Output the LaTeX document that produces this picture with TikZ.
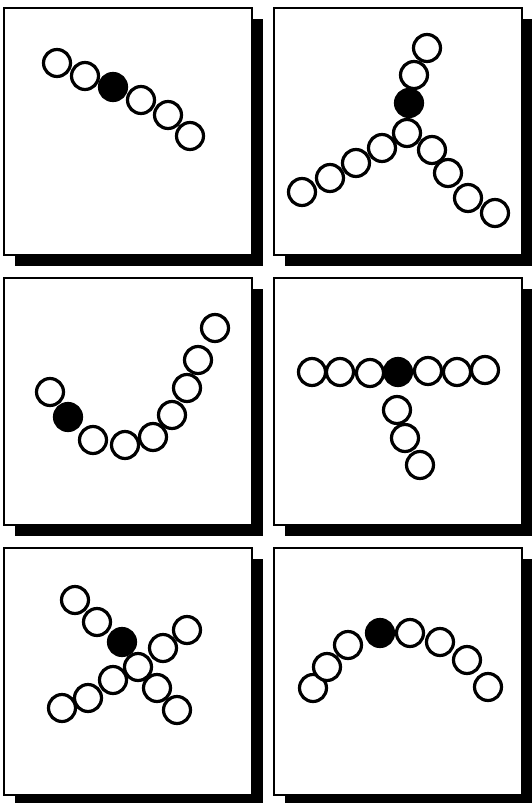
\documentclass[tikz,border=0pt]{standalone}
\begin{document}
\begin{tikzpicture}[
    x=1pt,y=-1pt,
    panel/.style={draw=black,fill=white,line width=1.6pt},
    shade/.style={fill=black},
    bead/.style={circle,draw=black,fill=white,line width=3.2pt,inner sep=0pt,minimum size=27pt},
    core/.style={bead,fill=black}
  ]
    \path[use as bounding box] (0,0) rectangle (532,803);
    % frames with drop shadow
    \foreach \c in {0,1}
      \foreach \r in {0,1,2} {
        \fill[shade] (15+270*\c,19+270*\r) rectangle ++(248,247);
        \draw[panel] (4+270*\c,8+270*\r) rectangle ++(248,247);
      }
    % straight chain
    \foreach \x/\y [count=\i] in {57/63,85/76,141/100,168/115,190/136}
      \node[bead] (a\i) at (\x,\y) {};
    \node[core] (acore) at (113,87) {};
    % three arms
    \foreach \x/\y [count=\i] in {427/48,414/75,302/192,330/178,356/163,382/148,
        495/213,468/198,448/173,432/150,407/133}
      \node[bead] (b\i) at (\x,\y) {};
    \node[core] (bcore) at (409,103) {};
    % bent chain
    \foreach \x/\y [count=\i] in {50/392,93/440,125/445,153/437,172/415,187/388,198/360,215/328}
      \node[bead] (c\i) at (\x,\y) {};
    \node[core] (ccore) at (68,417) {};
    % T shape
    \foreach \x/\y [count=\i] in {312/372,340/372,370/373,428/371,457/372,485/370,
        420/465,405/438,397/410}
      \node[bead] (d\i) at (\x,\y) {};
    \node[core] (dcore) at (398,372) {};
    % cross
    \foreach \x/\y [count=\i] in {75/600,97/622,62/708,88/698,113/680,187/630,163/648,
        177/710,157/688,138/667}
      \node[bead] (e\i) at (\x,\y) {};
    \node[core] (ecore) at (122,642) {};
    % arc
    \foreach \x/\y [count=\i] in {313/688,327/667,348/645,410/633,440/642,467/660,488/687}
      \node[bead] (f\i) at (\x,\y) {};
    \node[core] (fcore) at (380,633) {};
  \end{tikzpicture}
\end{document}
